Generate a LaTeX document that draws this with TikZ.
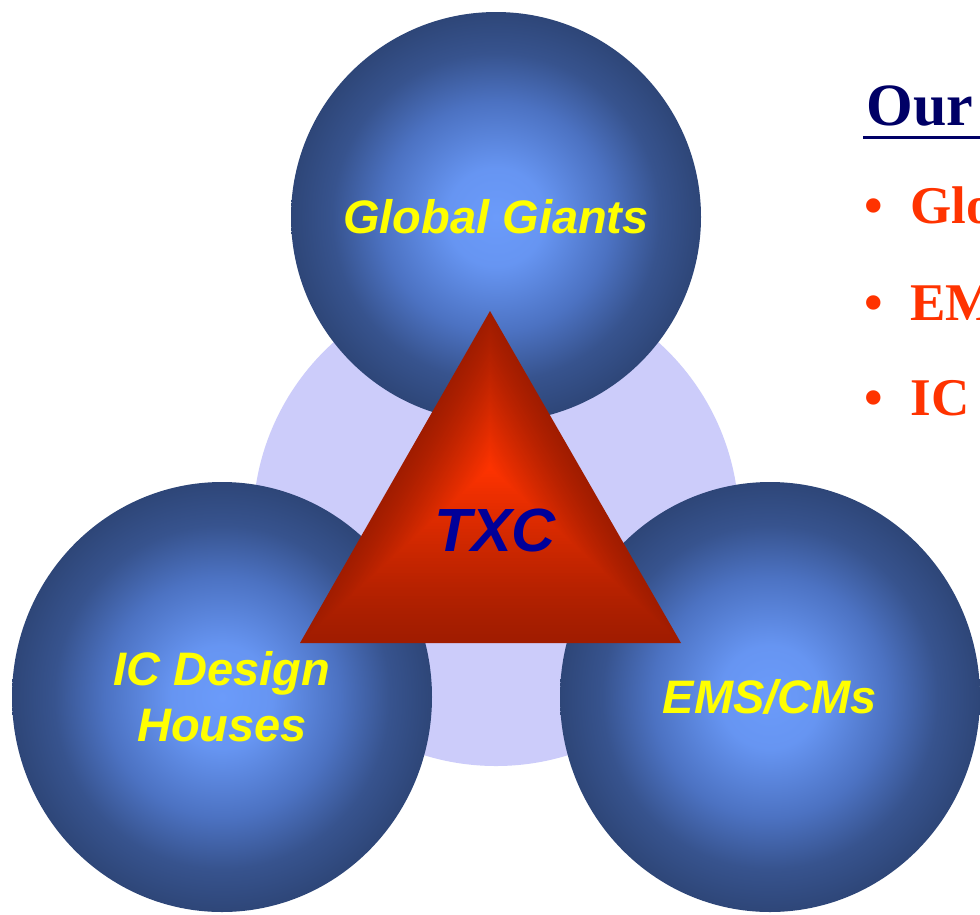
\documentclass[tikz,border=0pt]{standalone}
\usepackage{fontspec}
\setmainfont{Liberation Serif}
\setsansfont{Liberation Sans}
\usetikzlibrary{calc,shapes.geometric}

\definecolor{sphlite}{HTML}{6B9BFA}
\definecolor{sphmid}{HTML}{4C72C2}
\definecolor{sphdark}{HTML}{2E4678}
\definecolor{haze}{HTML}{CCCCFA}
\definecolor{trilit}{HTML}{FF3300}
\definecolor{tridark}{HTML}{A01C00}
\definecolor{labelyellow}{HTML}{FFFF00}
\definecolor{txcblue}{HTML}{000099}
\definecolor{ournavy}{HTML}{000066}
\definecolor{bulletred}{HTML}{FF3300}

% the path's box is the middle 50bp, so the rim sits at 25bp
\pgfdeclareradialshading{sphereglow}{\pgfpointorigin}{%
  color(0bp)=(sphlite); color(6bp)=(sphlite!85!sphmid);
  color(14bp)=(sphmid); color(20bp)=(sphdark!70!sphmid);
  color(25bp)=(sphdark); color(50bp)=(sphdark)}

\begin{document}
\begin{tikzpicture}[x=1pt,y=-1pt,
  sphere/.style={inner sep=0pt,shading=sphereglow,align=center,
    text=labelyellow,font=\sffamily\bfseries\itshape\fontsize{47}{56}\selectfont},
  heading/.style={anchor=base west,text=ournavy,font=\bfseries\fontsize{60}{66}\selectfont},
  item/.style={anchor=base west,text=bulletred,font=\bfseries\fontsize{53}{60}\selectfont}]

  \useasboundingbox (0,0) rectangle (980,914);
  \clip (0,0) rectangle (980,914);
  \fill[white] (0,0) rectangle (980,914);

  % pale disc behind the three spheres
  \fill[haze] (496,523) circle (243);

  \node[sphere,circle,minimum size=410pt] (giants) at (496,217) {Global Giants};
  \node[sphere,ellipse,minimum width=420pt,minimum height=430pt] (design) at (222,697) {IC Design\\Houses};
  \node[sphere,ellipse,minimum width=420pt,minimum height=430pt] (ems) at (770,697) {EMS/CMs};

  % triangle, shaded from the rim inwards
  \coordinate (apex) at (490,311);
  \coordinate (left) at (300,643);
  \coordinate (right) at (681,643);
  \coordinate (focus) at (490,468);
  \foreach \i in {0,...,60} {
    \pgfmathsetmacro\s{1-\i/60}
    \pgfmathsetmacro\p{100*(\i/60)^1.2}
    \fill[trilit!\p!tridark] ($(focus)!\s!(apex)$) -- ($(focus)!\s!(left)$)
      -- ($(focus)!\s!(right)$) -- cycle;
  }
  \node[text=txcblue,font=\sffamily\bfseries\itshape\fontsize{61}{66}\selectfont]
    (txc) at (495,530) {TXC};

  % list on the right
  \node[heading] (our) at (863,125) {Our};
  \draw[ournavy,line width=3pt] ([yshift=-12pt]our.base west) -- ([xshift=20pt,yshift=-12pt]our.base east);

  \node[item] (dot1) at (861,223) {\textbullet};
  \node[item] (glo) at (907,223) {Glo};
  \node[item] (dot2) at (861,320) {\textbullet};
  \node[item] (em) at (907,320) {EM};
  \node[item] (dot3) at (861,415) {\textbullet};
  \node[item] (ic) at (907,415) {IC};

\end{tikzpicture}
\end{document}
